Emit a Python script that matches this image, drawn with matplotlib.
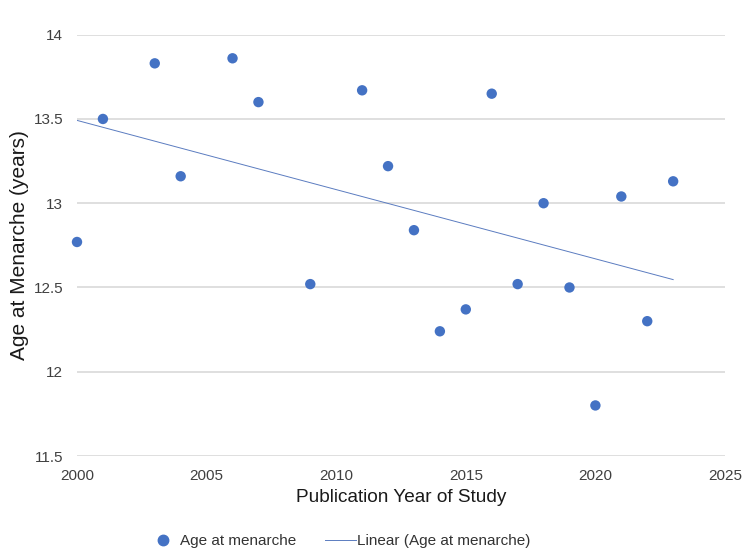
import numpy as np
import matplotlib
matplotlib.use("Agg")
import matplotlib.pyplot as plt
from matplotlib.lines import Line2D

plt.rcParams['font.family'] = ['Liberation Sans', 'DejaVu Sans']

years = [2000, 2001, 2003, 2004, 2006, 2007, 2009, 2011, 2012, 2013, 2014,
         2015, 2016, 2017, 2018, 2019, 2020, 2021, 2022, 2023]
ages = [12.77, 13.50, 13.83, 13.16, 13.86, 13.60, 12.52, 13.67, 13.22, 12.84, 12.24,
        12.37, 13.65, 12.52, 13.00, 12.50, 11.80, 13.04, 12.30, 13.13]
x_ticks = [2000, 2005, 2010, 2015, 2020, 2025]
y_ticks = [11.5, 12, 12.5, 13, 13.5, 14]

blue = '#4472C4'
line_blue = '#5b7cc0'
fig = plt.figure(figsize=(7.5, 5.56), dpi=100)
ax = fig.add_axes([77/750, 1-456/556, (725-77)/750, (456-34.7)/556])

ax.scatter(years, ages, s=56, color=blue, zorder=3, edgecolors='none', clip_on=False)
coef = np.polyfit(years, ages, 1)
xt = np.array([min(years), max(years)])
ax.plot(xt, np.polyval(coef, xt), color=line_blue, lw=0.7, zorder=2)

ax.set_xlim(2000, 2025)
ax.set_ylim(11.5, 14)
ax.set_xticks(x_ticks)
ax.set_yticks(y_ticks)
ax.set_yticklabels([f'{v:g}' for v in y_ticks])
for s in ax.spines.values():
    s.set_visible(False)
ax.grid(axis='y', color='#d9d9d9', lw=1.2)
ax.set_axisbelow(True)
ax.tick_params(length=0, labelsize=11, labelcolor='#404040')
ax.tick_params(axis='y', pad=10)
ax.tick_params(axis='x', pad=9)

ax.set_ylabel('Age at Menarche (years)', fontsize=15, color='#1a1a1a', labelpad=3)
ax.set_xlabel('Publication Year of Study', fontsize=13.7, color='#1a1a1a', labelpad=5)

handles = [Line2D([], [], marker='o', ls='none', color=blue, markersize=7.5),
           Line2D([], [], color=line_blue, lw=0.7)]
fig.legend(handles, ['Age at menarche', 'Linear (Age at menarche)'],
           loc='center', bbox_to_anchor=(339/750, 1-541/556), ncol=2, frameon=False,
           fontsize=11, handlelength=2.0, columnspacing=1.9, handletextpad=0.12,
           labelcolor='#333333', borderpad=0)

fig.savefig('out.png', dpi=100)
